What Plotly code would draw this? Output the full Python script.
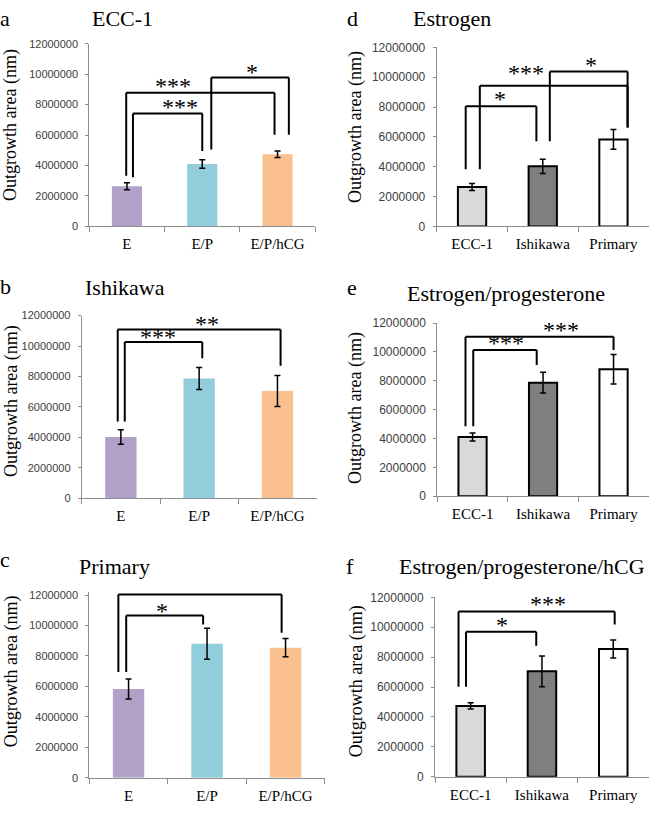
import plotly.graph_objects as go

W, H = 649, 814

# ---------------- data ----------------
treatments = ["E", "E/P", "E/P/hCG"]
cell_lines = ["ECC-1", "Ishikawa", "Primary"]

ecc1_mean = [2.64e6, 4.10e6, 4.74e6]
ecc1_err = [0.23e6, 0.28e6, 0.21e6]
ishikawa_mean = [4.03e6, 7.87e6, 7.05e6]
ishikawa_err = [0.48e6, 0.72e6, 1.02e6]
primary_mean = [5.83e6, 8.80e6, 8.54e6]
primary_err = [0.66e6, 1.02e6, 0.60e6]

y_tick_vals = [0, 2e6, 4e6, 6e6, 8e6, 10e6, 12e6]
y_tick_text = ["0", "2000000", "4000000", "6000000", "8000000", "10000000", "12000000"]

# significance brackets: (x_left, x_right, y_top, y_left_end, y_right_end, label, label_x, label_y)
brackets_a = [(0.08, 1.00, 7.42e6, 3.23e6, 4.95e6, "***", 0.71, 7.78e6),
              (-0.01, 1.96, 8.77e6, 3.33e6, 6.02e6, "***", 0.61, 9.18e6),
              (1.12, 2.15, 9.78e6, 5.05e6, 6.02e6, "*", 1.66, 10.10e6)]
brackets_b = [(0.05, 1.04, 10.26e6, 5.05e6, 9.20e6, "***", 0.47, 10.55e6),
              (-0.04, 2.04, 11.08e6, 5.05e6, 8.71e6, "**", 1.10, 11.40e6)]
brackets_c = [(-0.03, 0.95, 10.65e6, 6.95e6, 10.06e6, "*", 0.43, 10.90e6),
              (-0.13, 1.95, 12.04e6, 6.95e6, 9.53e6, "**", 0.93, 12.40e6)]
brackets_d = [(-0.09, 0.91, 8.05e6, 3.84e6, 5.70e6, "*", 0.39, 8.45e6),
              (0.11, 2.20, 9.43e6, 3.84e6, 6.63e6, "***", 0.77, 10.20e6),
              (1.10, 2.20, 10.38e6, 5.70e6, 6.63e6, "*", 1.68, 10.75e6)]
brackets_e = [(0.01, 0.91, 10.14e6, 4.84e6, 9.09e6, "***", 0.48, 10.52e6),
              (-0.10, 2.00, 11.05e6, 4.84e6, 10.14e6, "***", 1.26, 11.43e6)]
brackets_f = [(-0.065, 0.92, 9.70e6, 6.02e6, 8.76e6, "*", 0.44, 10.07e6),
              (-0.17, 2.02, 11.06e6, 6.02e6, 10.18e6, "***", 1.08, 11.47e6)]

treat_colors = ["#b1a0c7", "#92cddc", "#fac090"]
cell_colors = ["#d9d9d9", "#7f7f7f", "#ffffff"]

panels = [
    dict(letter="a", title="ECC-1", cats=treatments, vals=ecc1_mean, errs=ecc1_err,
         colors=treat_colors, outline=0, br=brackets_a,
         geo=dict(x0=89.3, cw=75.3, y0=223.3, ppm=15.5, top=12.0e6, tick=11,
                  title=(122, 12, "center"), let=(5, 12), ytitle=(11, 120))),
    dict(letter="b", title="Ishikawa", cats=treatments, vals=ishikawa_mean, errs=ishikawa_err,
         colors=treat_colors, outline=0, br=brackets_b,
         geo=dict(x0=81.7, cw=78.3, y0=500.0, ppm=15.5, top=12.0e6, tick=11,
                  title=(125, 285, "center"), let=(5, 284), ytitle=(11, 401))),
    dict(letter="c", title="Primary", cats=treatments, vals=primary_mean, errs=primary_err,
         colors=treat_colors, outline=0, br=brackets_c,
         geo=dict(x0=89.3, cw=78.5, y0=784.3, ppm=15.5, top=12.2e6, tick=11,
                  title=(114, 569, "center"), let=(5, 562), ytitle=(11, 676))),
    dict(letter="d", title="Estrogen", cats=cell_lines,
         vals=[ecc1_mean[0], ishikawa_mean[0], primary_mean[0]],
         errs=[ecc1_err[0], ishikawa_err[0], primary_err[0]],
         colors=cell_colors, outline=2, br=brackets_d,
         geo=dict(x0=436.7, cw=70.7, y0=223.3, ppm=15.19, top=12.0e6, tick=12,
                  title=(452, 12, "center"), let=(352, 12), ytitle=(356, 122))),
    dict(letter="e", title="Estrogen/progesterone", cats=cell_lines,
         vals=[ecc1_mean[1], ishikawa_mean[1], primary_mean[1]],
         errs=[ecc1_err[1], ishikawa_err[1], primary_err[1]],
         colors=cell_colors, outline=2, br=brackets_e,
         geo=dict(x0=437.3, cw=70.5, y0=497.7, ppm=14.67, top=12.0e6, tick=12,
                  title=(506, 292, "center"), let=(352, 285), ytitle=(356, 408))),
    dict(letter="f", title="Estrogen/progesterone/hCG", cats=cell_lines,
         vals=[ecc1_mean[2], ishikawa_mean[2], primary_mean[2]],
         errs=[ecc1_err[2], ishikawa_err[2], primary_err[2]],
         colors=cell_colors, outline=2, br=brackets_f,
         geo=dict(x0=435.0, cw=71.3, y0=783.3, ppm=15.22, top=12.0e6, tick=12,
                  title=(647, 569, "right"), let=(350, 569), ytitle=(356, 686))),
]

SERIF = "Liberation Serif, Times New Roman, serif"
SANS = "Liberation Sans, Arial, sans-serif"
AXIS_GRAY = "#8c8c8c"


def px(sx):
    return sx / W


def py(sy):
    return 1 - sy / H


fig = go.Figure()
shapes = []
annotations = []
layout_axes = {}

for i, p in enumerate(panels):
    n = i + 1
    xa = "x" if n == 1 else f"x{n}"
    ya = "y" if n == 1 else f"y{n}"
    g = p["geo"]
    x_left = g["x0"]
    x_right = min(g["x0"] + 3 * g["cw"], W)
    y_bot = g["y0"]
    y_topp = g["y0"] - g["top"] / 1e6 * g["ppm"]

    fig.add_trace(go.Bar(
        x=p["cats"], y=p["vals"], xaxis=xa, yaxis=ya, width=0.4,
        marker=dict(color=p["colors"],
                    line=dict(color="black", width=p["outline"])),
        error_y=dict(type="data", array=p["errs"], color="black",
                     thickness=1.5, width=3),
        showlegend=False, hoverinfo="skip"))

    layout_axes["xaxis" if n == 1 else f"xaxis{n}"] = dict(
        domain=[px(x_left), px(x_right)], anchor=ya, type="category",
        range=[-0.5, 2.5], showline=True, linecolor=AXIS_GRAY, linewidth=1,
        ticks="outside", tickson="boundaries", ticklen=5, tickcolor=AXIS_GRAY,
        tickfont=dict(family=SERIF, size=15, color="black"),
        ticklabelstandoff=4, showgrid=False, zeroline=False, fixedrange=True)
    layout_axes["yaxis" if n == 1 else f"yaxis{n}"] = dict(
        domain=[py(y_bot), py(y_topp)], anchor=xa,
        range=[0, g["top"]], tickmode="array", tickvals=y_tick_vals,
        ticktext=y_tick_text, ticks="outside", ticklen=3, tickcolor=AXIS_GRAY,
        showline=True, linecolor=AXIS_GRAY, linewidth=1,
        tickfont=dict(family=SANS, size=g["tick"], color="#404040"),
        ticklabelstandoff=5, showgrid=False, zeroline=False, fixedrange=True)

    for (xl, xr, yt, yl, yr, lab, lx, ly) in p["br"]:
        for (ax0, ay0, ax1, ay1) in [(xl, yl, xl, yt), (xl, yt, xr, yt), (xr, yt, xr, yr)]:
            shapes.append(dict(type="line", xref=xa, yref=ya, x0=ax0, y0=ay0,
                               x1=ax1, y1=ay1, layer="above",
                               line=dict(color="black", width=2)))
        annotations.append(dict(text=lab, xref=xa, yref=ya, x=lx, y=ly,
                                showarrow=False, yshift=1,
                                font=dict(family=SERIF, size=24, color="#000000")))

    tx, ty, tanchor = g["title"]
    annotations.append(dict(text=p["title"], xref="paper", yref="paper",
                            x=px(tx), y=py(ty), xanchor=tanchor, yanchor="middle",
                            showarrow=False, font=dict(family=SERIF, size=22, color="black")))
    lx_, ly_ = g["let"]
    annotations.append(dict(text=p["letter"], xref="paper", yref="paper",
                            x=px(lx_), y=py(ly_), xanchor="center", yanchor="middle",
                            showarrow=False, font=dict(family=SERIF, size=22, color="black")))
    yx, yy = g["ytitle"]
    annotations.append(dict(text="Outgrowth area (nm)", xref="paper", yref="paper",
                            x=px(yx), y=py(yy), xanchor="center", yanchor="middle",
                            textangle=-90, showarrow=False,
                            font=dict(family=SERIF, size=18, color="black")))

fig.update_layout(
    width=W, height=H, margin=dict(l=0, r=0, t=0, b=0),
    paper_bgcolor="white", plot_bgcolor="white",
    shapes=shapes, annotations=annotations, bargap=0.6,
    **layout_axes)

fig.write_html("out.html",
               config={"displayModeBar": False, "staticPlot": True},
               post_script="document.body.style.margin='0';document.body.style.padding='0';"
                           "document.body.style.overflow='hidden';")
